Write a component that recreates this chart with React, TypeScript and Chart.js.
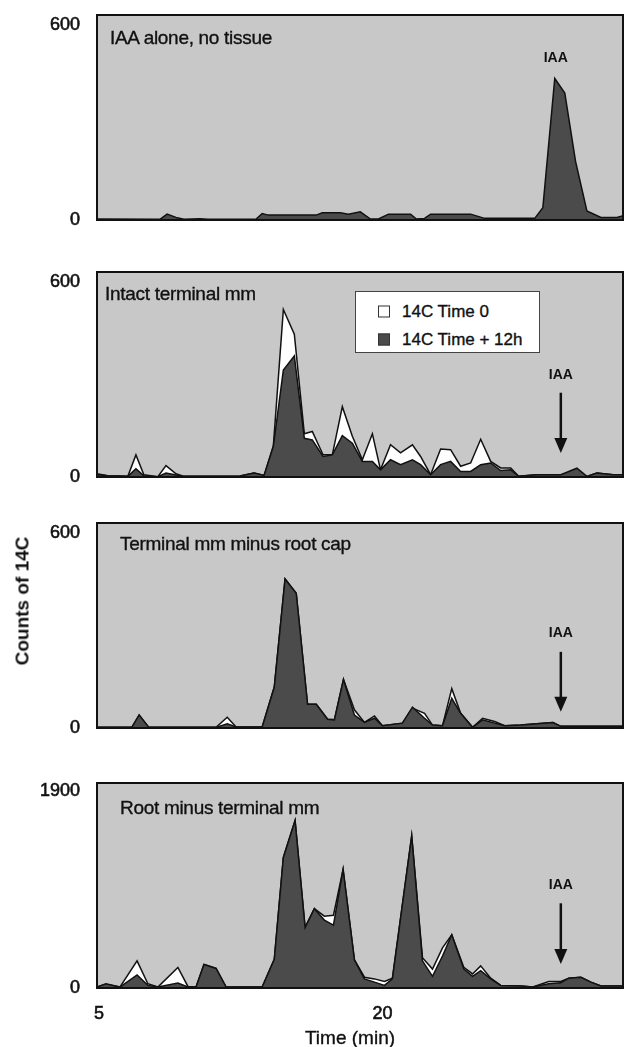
import React, { useEffect, useRef } from "react";
import { Chart, registerables } from "chart.js";

Chart.register(...registerables);

// ---------------- data ----------------
const X_MIN = 4.89;
const X_MAX = 32.72;
const X_TICKS = [5, 20];

const PANEL_TITLES = [
  "IAA alone, no tissue",
  "Intact terminal mm",
  "Terminal mm minus root cap",
  "Root minus terminal mm",
];
const LEGEND_LABELS = ["14C Time 0", "14C Time + 12h"];
const Y_TOP_TICKS = [600, 600, 600, 1900];
const Y_AXIS_MAX = [630, 630, 630, 1980];
const IAA_TEXT = "IAA";

// Panel 1: IAA alone
const P1_TIME = [4.89, 8.22, 8.6, 9.07, 9.49, 10.34, 10.77, 13.31, 13.63, 13.95, 16.49, 16.81, 17.76, 18.19, 18.82, 19.36, 19.78, 20.31, 21.48, 21.79, 22.22, 22.54, 24.66, 25.4, 26.99, 28.05, 28.48, 29.11, 29.64, 30.21, 30.81, 31.55, 32.4, 32.82];
const P1_COUNTS = [3, 2, 18, 8, 2, 4, 2, 3, 20, 15, 15, 22, 22, 18, 25, 3, 3, 18, 18, 3, 5, 18, 18, 5, 5, 5, 38, 435, 390, 180, 28, 8, 8, 15];

// Panel 2: intact terminal mm
const P2_TIME = [4.89, 5.46, 6.52, 6.95, 7.37, 8.11, 8.54, 9.07, 9.49, 12.46, 13.2, 13.73, 14.22, 14.75, 15.33, 15.86, 16.28, 16.85, 17.34, 17.87, 18.4, 18.93, 19.46, 19.89, 20.42, 20.95, 21.58, 22.01, 22.54, 23.07, 23.6, 24.13, 24.66, 25.19, 25.72, 26.25, 26.78, 27.2, 28.16, 29.43, 30.28, 30.81, 31.34, 32.19, 32.82];
const P2_T0 = [10, 4, 2, 68, 7, 1, 35, 10, 2, 3, 12, 5, 95, 515, 439, 133, 140, 68, 68, 216, 125, 53, 133, 22, 99, 74, 99, 63, 7, 86, 84, 33, 43, 116, 48, 28, 28, 2, 7, 7, 12, 2, 12, 7, 7];
const P2_T12 = [7, 4, 2, 25, 4, 1, 12, 6, 2, 3, 12, 5, 94, 329, 372, 119, 114, 63, 68, 127, 104, 48, 48, 22, 53, 38, 53, 38, 7, 38, 48, 17, 17, 38, 43, 20, 22, 2, 7, 7, 27, 2, 12, 7, 7];

// Panel 3: terminal mm minus root cap
const P3_TIME = [4.89, 6.74, 7.12, 7.63, 11.19, 11.78, 12.25, 13.63, 14.27, 14.84, 15.43, 16.03, 16.49, 17.09, 17.45, 17.93, 18.51, 19.04, 19.57, 19.99, 21.05, 21.58, 22.22, 22.64, 23.17, 23.66, 24.13, 24.76, 25.29, 25.93, 26.46, 27.31, 29.01, 29.43, 32.82];
const P3_T0 = [2, 3, 40, 2, 2, 33, 3, 3, 126, 458, 414, 73, 73, 27, 25, 149, 56, 17, 37, 7, 15, 61, 45, 9, 7, 121, 45, 2, 30, 20, 7, 9, 17, 5, 5];
const P3_T12 = [2, 3, 40, 2, 2, 13, 3, 3, 126, 458, 414, 73, 73, 27, 25, 149, 40, 17, 30, 7, 15, 64, 30, 9, 7, 91, 45, 2, 25, 15, 7, 9, 17, 5, 5];

// Panel 4: root minus terminal mm
const P4_TIME = [4.89, 5.36, 6.1, 7.01, 7.58, 8.11, 9.17, 9.7, 10.13, 10.55, 11.19, 11.72, 13.63, 14.27, 14.75, 15.37, 15.9, 16.39, 16.92, 17.4, 17.91, 18.51, 19.04, 19.57, 20.1, 20.52, 21.54, 22.11, 22.64, 23.17, 23.66, 24.3, 24.76, 25.19, 25.72, 26.25, 27.31, 27.95, 28.79, 29.43, 29.85, 30.49, 31.02, 31.55, 32.82];
const P4_T0 = [10, 35, 9, 262, 41, 9, 199, 15, 9, 227, 189, 9, 9, 277, 1261, 1617, 583, 766, 694, 703, 1145, 271, 104, 88, 63, 95, 1469, 293, 183, 388, 514, 199, 136, 214, 95, 25, 19, 9, 63, 63, 95, 104, 57, 19, 19];
const P4_T12 = [10, 41, 9, 126, 25, 9, 47, 9, 9, 227, 189, 9, 9, 277, 1261, 1617, 583, 766, 656, 608, 1145, 271, 88, 57, 25, 88, 1469, 262, 113, 309, 514, 183, 113, 167, 88, 25, 19, 9, 41, 50, 95, 104, 57, 19, 19];

// IAA marker positions (data units)
const IAA_TIME = [29.16, 29.43, 29.43, 29.43];
const IAA_LABEL_Y = [496, 313, 292, 995];
const IAA_ARROW_TOP = [null, 259, 234, 818];
const IAA_ARROW_TIP = [null, 74, 50, 232];

// ---------------- styling / layout ----------------
const FONT = '"Liberation Sans", Arial, Helvetica, sans-serif';
const BG = "#c8c8c8";
const DARK = "#4b4b4b";
const INK = "#111";
const AREA_TOPS = [15, 272, 523, 783];
const AREA_H = 205;
const AREA_LEFT = 97;
const AREA_RIGHT = 623;
const PAD = 32;
const XAXIS_H = 59;
const TEXT_STROKE = "0.35px #111";

const panelPlugin = {
  id: "panelBox",
  beforeDatasetsDraw(chart: any) {
    const { ctx, chartArea } = chart;
    ctx.save();
    ctx.fillStyle = BG;
    ctx.fillRect(chartArea.left, chartArea.top, chartArea.right - chartArea.left, chartArea.bottom - chartArea.top);
    ctx.restore();
  },
  afterDatasetsDraw(chart: any, _args: any, opts: any) {
    const { ctx, chartArea, scales } = chart;
    ctx.save();
    ctx.strokeStyle = INK;
    ctx.lineWidth = 2;
    ctx.strokeRect(chartArea.left, chartArea.top, chartArea.right - chartArea.left, chartArea.bottom - chartArea.top);
    if (opts && opts.x != null) {
      const px = scales.x.getPixelForValue(opts.x);
      ctx.fillStyle = INK;
      ctx.font = `bold 14px ${FONT}`;
      ctx.textAlign = "center";
      ctx.textBaseline = "middle";
      ctx.fillText(opts.text, px, scales.y.getPixelForValue(opts.labelY));
      if (opts.arrowTop != null) {
        const y1 = scales.y.getPixelForValue(opts.arrowTop);
        const y2 = scales.y.getPixelForValue(opts.arrowTip);
        ctx.lineWidth = 2.5;
        ctx.beginPath();
        ctx.moveTo(px, y1);
        ctx.lineTo(px, y2 - 12);
        ctx.stroke();
        ctx.beginPath();
        ctx.moveTo(px - 6.5, y2 - 15);
        ctx.lineTo(px + 6.5, y2 - 15);
        ctx.lineTo(px, y2);
        ctx.closePath();
        ctx.fill();
      }
    }
    ctx.restore();
  },
};

type SeriesDef = { label: string; values: number[]; color: string; order: number };

function Panel({ index, time, series }: { index: number; time: number[]; series: SeriesDef[] }) {
  const ref = useRef<HTMLCanvasElement>(null);
  const isLast = index === 3;
  const canvasTop = AREA_TOPS[index] - PAD;
  const canvasH = isLast ? 1047 - canvasTop : AREA_H + 2 * PAD;

  useEffect(() => {
    if (!ref.current) return;
    const tickFont = { family: FONT, size: 18 };
    const chart = new Chart(ref.current, {
      type: "line",
      data: {
        datasets: series.map((s) => ({
          label: s.label,
          data: time.map((t, i) => ({ x: t, y: s.values[i] })),
          borderColor: INK,
          borderWidth: 1.5,
          backgroundColor: s.color,
          fill: "origin",
          pointRadius: 0,
          tension: 0,
          order: s.order,
        })),
      },
      options: {
        animation: false,
        responsive: false,
        devicePixelRatio: 1,
        layout: { padding: { top: PAD, bottom: isLast ? 0 : PAD, left: 0, right: 625 - AREA_RIGHT } },
        plugins: {
          legend: { display: false },
          tooltip: { enabled: false },
          panelBox: {
            x: IAA_TIME[index],
            text: IAA_TEXT,
            labelY: IAA_LABEL_Y[index],
            arrowTop: IAA_ARROW_TOP[index],
            arrowTip: IAA_ARROW_TIP[index],
          },
        } as any,
        scales: {
          x: {
            type: "linear",
            min: X_MIN,
            max: X_MAX,
            display: isLast,
            grid: { display: false, drawTicks: false },
            border: { display: false },
            ticks: {
              color: INK,
              font: tickFont,
              padding: 15,
              autoSkip: false,
              maxRotation: 0,
              textStrokeColor: INK,
              textStrokeWidth: 0.6,
              callback: (v: any) => String(v),
            },
            afterBuildTicks: (s: any) => {
              s.ticks = X_TICKS.map((v) => ({ value: v }));
            },
            afterFit: (s: any) => {
              if (isLast) s.height = XAXIS_H;
            },
          },
          y: {
            type: "linear",
            min: 0,
            max: Y_AXIS_MAX[index],
            grid: { display: false, drawTicks: false },
            border: { display: false },
            ticks: {
              color: INK,
              font: tickFont,
              padding: 17,
              textStrokeColor: INK,
              textStrokeWidth: 0.6,
              callback: (v: any) => String(v),
            },
            afterBuildTicks: (s: any) => {
              s.ticks = [{ value: 0 }, { value: Y_TOP_TICKS[index] }];
            },
            afterFit: (s: any) => {
              s.width = AREA_LEFT;
            },
          },
        },
      } as any,
      plugins: [panelPlugin],
    });
    return () => chart.destroy();
  }, []);

  return (
    <canvas
      ref={ref}
      width={625}
      height={canvasH}
      style={{ position: "absolute", left: 0, top: canvasTop, width: 625, height: canvasH }}
    />
  );
}

const TITLE_POS = [
  { left: 110, y: 37 },
  { left: 105, y: 293 },
  { left: 120, y: 543 },
  { left: 120, y: 807 },
];

export default function App() {
  useEffect(() => {
    document.body.style.margin = "0";
  }, []);

  const panels = [
    { time: P1_TIME, series: [{ label: "IAA", values: P1_COUNTS, color: DARK, order: 1 }] },
    {
      time: P2_TIME,
      series: [
        { label: LEGEND_LABELS[0], values: P2_T0, color: "#ffffff", order: 2 },
        { label: LEGEND_LABELS[1], values: P2_T12, color: DARK, order: 1 },
      ],
    },
    {
      time: P3_TIME,
      series: [
        { label: LEGEND_LABELS[0], values: P3_T0, color: "#ffffff", order: 2 },
        { label: LEGEND_LABELS[1], values: P3_T12, color: DARK, order: 1 },
      ],
    },
    {
      time: P4_TIME,
      series: [
        { label: LEGEND_LABELS[0], values: P4_T0, color: "#ffffff", order: 2 },
        { label: LEGEND_LABELS[1], values: P4_T12, color: DARK, order: 1 },
      ],
    },
  ];

  const heavy = { WebkitTextStroke: TEXT_STROKE } as any;

  return (
    <div
      style={{
        position: "absolute",
        left: 0,
        top: 0,
        width: 625,
        height: 1047,
        background: "#fff",
        overflow: "hidden",
        fontFamily: FONT,
        color: INK,
      }}
    >
      {panels.map((p, i) => (
        <Panel key={i} index={i} time={p.time} series={p.series} />
      ))}
      {PANEL_TITLES.map((t, i) => (
        <div
          key={t}
          style={{
            position: "absolute",
            left: TITLE_POS[i].left,
            top: TITLE_POS[i].y,
            transform: "translateY(-50%)",
            fontSize: 19,
            lineHeight: 1,
            letterSpacing: "-0.3px",
            whiteSpace: "nowrap",
            ...heavy,
          }}
        >
          {t}
        </div>
      ))}
      {/* legend */}
      <div
        style={{
          position: "absolute",
          left: 355,
          top: 291,
          width: 185,
          height: 62,
          boxSizing: "border-box",
          background: "#fff",
          border: "1px solid #444",
        }}
      >
        {LEGEND_LABELS.map((l, i) => (
          <div
            key={l}
            style={{
              position: "absolute",
              left: 22,
              top: i === 0 ? 19 : 47,
              transform: "translateY(-50%)",
              display: "flex",
              alignItems: "center",
              whiteSpace: "nowrap",
            }}
          >
            <span
              style={{
                display: "inline-block",
                width: 12,
                height: 12,
                boxSizing: "border-box",
                border: "1px solid #333",
                background: i === 0 ? "#fff" : DARK,
                marginRight: 12,
              }}
            />
            <span style={{ fontSize: 17, lineHeight: 1, ...heavy }}>{l}</span>
          </div>
        ))}
      </div>
      {/* y title */}
      <div
        style={{
          position: "absolute",
          left: 22,
          top: 601,
          transform: "translate(-50%, -50%) rotate(-90deg)",
          fontSize: 19,
          fontWeight: "bold",
          lineHeight: 1,
          whiteSpace: "nowrap",
        }}
      >
        Counts of 14C
      </div>
      {/* x title */}
      <div
        style={{
          position: "absolute",
          left: 350,
          top: 1037,
          transform: "translate(-50%, -50%)",
          fontSize: 19,
          lineHeight: 1,
          whiteSpace: "nowrap",
          ...heavy,
        }}
      >
        Time (min)
      </div>
    </div>
  );
}
